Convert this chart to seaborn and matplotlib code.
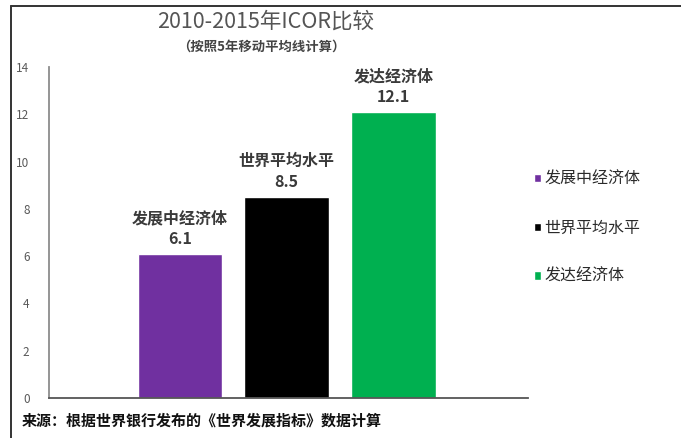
import matplotlib
matplotlib.use("Agg")
import matplotlib.pyplot as plt
from matplotlib.lines import Line2D
import seaborn as sns
import pandas as pd

# ICOR, 2010-2015 (5-year moving average)
categories = ["发展中经济体", "世界平均水平", "发达经济体"]
icor_values = [6.1, 8.5, 12.1]
bar_colors = ["#7030A0", "#000000", "#00B050"]
y_ticks = [0, 2, 4, 6, 8, 10, 12, 14]

title_text = "2010-2015年ICOR比较"
subtitle_text = "（按照5年移动平均线计算）"
source_text = "来源：根据世界银行发布的《世界发展指标》数据计算"

sns.set_theme(style="white")
plt.rcParams["font.family"] = ["Noto Sans CJK SC", "DejaVu Sans"]

df = pd.DataFrame({"group": categories, "icor": icor_values})

fig = plt.figure(figsize=(6.81, 4.38), dpi=100)
ax = fig.add_axes([49 / 681, 1 - 398 / 438, (528 - 49) / 681, (398 - 67) / 438])

sns.barplot(data=df, x="group", y="icor", hue="group", order=categories,
            hue_order=categories, palette=bar_colors, width=0.79,
            saturation=1, legend=True, dodge=False, ax=ax)

ax.set_xlim(-1.224, 3.26)
ax.set_ylim(0, 14)
ax.set_yticks(y_ticks)
ax.set_yticklabels([str(t) for t in y_ticks], fontsize=8.5, color="#595959")
ax.tick_params(axis="y", length=0, pad=14)
ax.set_xticks([])
ax.set_xlabel("")
ax.set_ylabel("")
for side in ("top", "right"):
    ax.spines[side].set_visible(False)
ax.spines["left"].set_color("#8c8c8c")
ax.spines["left"].set_linewidth(1.3)
ax.spines["bottom"].set_color("#555555")
ax.spines["bottom"].set_linewidth(1.3)

# labels above each bar: group name and value
for i, (name, v) in enumerate(zip(categories, icor_values)):
    ax.annotate(f"{v:.1f}", (i, v), xytext=(0, 5), textcoords="offset points",
                ha="center", va="bottom", fontsize=11.5, fontweight="bold",
                color="#3a3a3a")
    ax.annotate(name, (i, v), xytext=(0, 20), textcoords="offset points",
                ha="center", va="bottom", fontsize=11.5, fontweight="bold",
                color="#3a3a3a")

# legend on the right with small square markers
leg = ax.get_legend()
handles = leg.legend_handles
leg.remove()
fig.legend(handles, categories, loc="center left",
           bbox_to_anchor=(526 / 681, 1 - 228 / 438), frameon=False,
           fontsize=11.5, handlelength=0.45, handleheight=0.45,
           handletextpad=0.2, labelspacing=1.98, borderpad=0,
           labelcolor="#2a2a2a")

fig.text(266 / 681, 1 - 22 / 438, title_text, ha="center", va="center",
         fontsize=15.5, color="#555555")
fig.text(261 / 681, 1 - 47 / 438, subtitle_text, ha="center", va="center",
         fontsize=9.6, fontweight="bold", color="#444444")
fig.text(22 / 681, 1 - 421 / 438, source_text, ha="left", va="center",
         fontsize=10.8, fontweight="bold", color="#111111")

# outer frame (top and left edges)
fig.add_artist(Line2D([10.5 / 681, 10.5 / 681], [0, 1 - 6 / 438],
                      transform=fig.transFigure, color="#333333", lw=1.4))
fig.add_artist(Line2D([10.5 / 681, 1], [1 - 6 / 438, 1 - 6 / 438],
                      transform=fig.transFigure, color="#333333", lw=1.4))

fig.savefig("out.png", dpi=100)
